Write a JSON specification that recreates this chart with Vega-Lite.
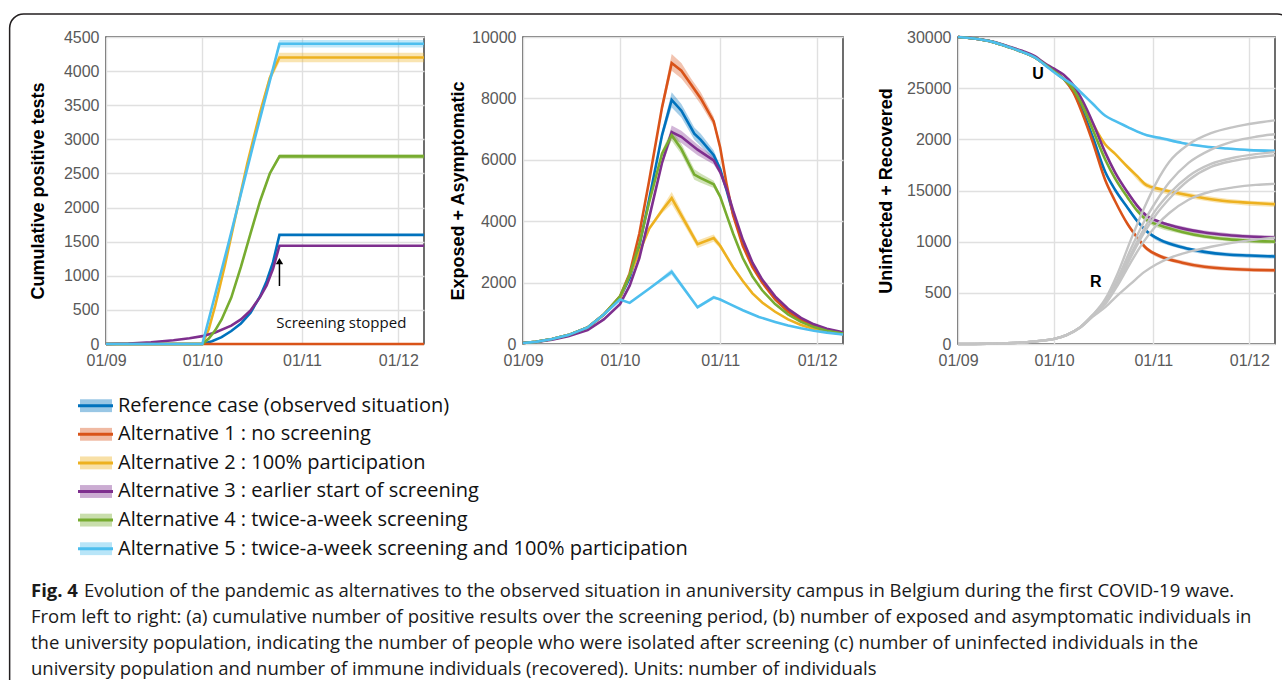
{
  "$schema": "https://vega.github.io/schema/vega-lite/v6.json",
  "background": "white",
  "padding": {"left": 8, "top": 12, "right": 0, "bottom": 0},
  "datasets": {
    "p1": [
      {"s":"ref","d":"2020-09-01","v":0},{"s":"ref","d":"2020-10-01","v":0},{"s":"ref","d":"2020-10-04","v":40},{"s":"ref","d":"2020-10-07","v":100},{"s":"ref","d":"2020-10-10","v":190},{"s":"ref","d":"2020-10-13","v":300},{"s":"ref","d":"2020-10-16","v":460},{"s":"ref","d":"2020-10-19","v":700},{"s":"ref","d":"2020-10-21","v":920},{"s":"ref","d":"2020-10-23","v":1200},{"s":"ref","d":"2020-10-25","v":1600},{"s":"ref","d":"2020-12-09","v":1600},
      {"s":"a1","d":"2020-09-01","v":0},{"s":"a1","d":"2020-12-09","v":0},
      {"s":"a2","d":"2020-09-01","v":0},{"s":"a2","d":"2020-10-01","v":0},{"s":"a2","d":"2020-10-03","v":220},{"s":"a2","d":"2020-10-05","v":560},{"s":"a2","d":"2020-10-08","v":1150},{"s":"a2","d":"2020-10-11","v":1800},{"s":"a2","d":"2020-10-15","v":2650},{"s":"a2","d":"2020-10-19","v":3400},{"s":"a2","d":"2020-10-22","v":3900},{"s":"a2","d":"2020-10-25","v":4200},{"s":"a2","d":"2020-12-09","v":4200},
      {"s":"a3","d":"2020-09-01","v":0},{"s":"a3","d":"2020-09-08","v":8},{"s":"a3","d":"2020-09-15","v":25},{"s":"a3","d":"2020-09-22","v":55},{"s":"a3","d":"2020-09-27","v":85},{"s":"a3","d":"2020-10-01","v":115},{"s":"a3","d":"2020-10-05","v":170},{"s":"a3","d":"2020-10-10","v":270},{"s":"a3","d":"2020-10-13","v":360},{"s":"a3","d":"2020-10-16","v":490},{"s":"a3","d":"2020-10-19","v":690},{"s":"a3","d":"2020-10-21","v":860},{"s":"a3","d":"2020-10-23","v":1100},{"s":"a3","d":"2020-10-25","v":1440},{"s":"a3","d":"2020-12-09","v":1440},
      {"s":"a4","d":"2020-09-01","v":0},{"s":"a4","d":"2020-10-01","v":0},{"s":"a4","d":"2020-10-03","v":80},{"s":"a4","d":"2020-10-05","v":200},{"s":"a4","d":"2020-10-07","v":360},{"s":"a4","d":"2020-10-10","v":680},{"s":"a4","d":"2020-10-13","v":1130},{"s":"a4","d":"2020-10-16","v":1620},{"s":"a4","d":"2020-10-19","v":2100},{"s":"a4","d":"2020-10-22","v":2500},{"s":"a4","d":"2020-10-25","v":2750},{"s":"a4","d":"2020-12-09","v":2750},
      {"s":"a5","d":"2020-09-01","v":0},{"s":"a5","d":"2020-10-01","v":0},{"s":"a5","d":"2020-10-09","v":1450},{"s":"a5","d":"2020-10-17","v":2950},{"s":"a5","d":"2020-10-25","v":4400},{"s":"a5","d":"2020-12-09","v":4400}
    ],
    "p1band": [
      {"s":"a2","d":"2020-10-01","lo":0,"hi":0},{"s":"a2","d":"2020-10-03","lo":215,"hi":225},{"s":"a2","d":"2020-10-05","lo":550,"hi":570},{"s":"a2","d":"2020-10-08","lo":1130,"hi":1170},{"s":"a2","d":"2020-10-11","lo":1770,"hi":1830},{"s":"a2","d":"2020-10-15","lo":2610,"hi":2690},{"s":"a2","d":"2020-10-19","lo":3350,"hi":3450},{"s":"a2","d":"2020-10-22","lo":3840,"hi":3960},{"s":"a2","d":"2020-10-25","lo":4130,"hi":4270},{"s":"a2","d":"2020-12-09","lo":4130,"hi":4270},
      {"s":"a4","d":"2020-10-01","lo":0,"hi":0},{"s":"a4","d":"2020-10-03","lo":78,"hi":82},{"s":"a4","d":"2020-10-05","lo":195,"hi":205},{"s":"a4","d":"2020-10-07","lo":352,"hi":368},{"s":"a4","d":"2020-10-10","lo":668,"hi":692},{"s":"a4","d":"2020-10-13","lo":1112,"hi":1148},{"s":"a4","d":"2020-10-16","lo":1595,"hi":1645},{"s":"a4","d":"2020-10-19","lo":2070,"hi":2130},{"s":"a4","d":"2020-10-22","lo":2465,"hi":2535},{"s":"a4","d":"2020-10-25","lo":2715,"hi":2785},{"s":"a4","d":"2020-12-09","lo":2715,"hi":2785},
      {"s":"a5","d":"2020-10-01","lo":0,"hi":0},{"s":"a5","d":"2020-10-09","lo":1430,"hi":1470},{"s":"a5","d":"2020-10-17","lo":2915,"hi":2985},{"s":"a5","d":"2020-10-25","lo":4345,"hi":4455},{"s":"a5","d":"2020-12-09","lo":4345,"hi":4455}
    ],
    "p2": [
      {"s":"ref","d":"2020-09-01","v":30},{"s":"ref","d":"2020-09-05","v":70},{"s":"ref","d":"2020-09-10","v":160},{"s":"ref","d":"2020-09-15","v":290},{"s":"ref","d":"2020-09-21","v":540},{"s":"ref","d":"2020-09-26","v":960},{"s":"ref","d":"2020-10-01","v":1500},
      {"s":"ref","d":"2020-10-04","v":2150},{"s":"ref","d":"2020-10-07","v":3200},{"s":"ref","d":"2020-10-10","v":4700},{"s":"ref","d":"2020-10-14","v":6800},{"s":"ref","d":"2020-10-17","v":7950},{"s":"ref","d":"2020-10-20","v":7600},{"s":"ref","d":"2020-10-24","v":6850},{"s":"ref","d":"2020-10-26","v":6650},{"s":"ref","d":"2020-10-30","v":6150},{"s":"ref","d":"2020-11-01","v":5700},{"s":"ref","d":"2020-11-03","v":5000},{"s":"ref","d":"2020-11-05","v":4250},{"s":"ref","d":"2020-11-08","v":3300},{"s":"ref","d":"2020-11-11","v":2600},{"s":"ref","d":"2020-11-14","v":2050},{"s":"ref","d":"2020-11-18","v":1500},{"s":"ref","d":"2020-11-22","v":1100},{"s":"ref","d":"2020-11-26","v":800},{"s":"ref","d":"2020-11-30","v":600},{"s":"ref","d":"2020-12-04","v":470},{"s":"ref","d":"2020-12-09","v":360},
      {"s":"a1","d":"2020-09-01","v":30},{"s":"a1","d":"2020-09-05","v":70},{"s":"a1","d":"2020-09-10","v":160},{"s":"a1","d":"2020-09-15","v":290},{"s":"a1","d":"2020-09-21","v":540},{"s":"a1","d":"2020-09-26","v":960},{"s":"a1","d":"2020-10-01","v":1550},
      {"s":"a1","d":"2020-10-04","v":2300},{"s":"a1","d":"2020-10-07","v":3600},{"s":"a1","d":"2020-10-10","v":5300},{"s":"a1","d":"2020-10-14","v":7700},{"s":"a1","d":"2020-10-17","v":9150},{"s":"a1","d":"2020-10-20","v":8900},{"s":"a1","d":"2020-10-23","v":8450},{"s":"a1","d":"2020-10-26","v":8000},{"s":"a1","d":"2020-10-30","v":7250},{"s":"a1","d":"2020-11-01","v":6400},{"s":"a1","d":"2020-11-03","v":5200},{"s":"a1","d":"2020-11-05","v":4200},{"s":"a1","d":"2020-11-08","v":3200},{"s":"a1","d":"2020-11-11","v":2500},{"s":"a1","d":"2020-11-14","v":2000},{"s":"a1","d":"2020-11-18","v":1450},{"s":"a1","d":"2020-11-22","v":1050},{"s":"a1","d":"2020-11-26","v":780},{"s":"a1","d":"2020-11-30","v":590},{"s":"a1","d":"2020-12-04","v":460},{"s":"a1","d":"2020-12-09","v":350},
      {"s":"a2","d":"2020-09-01","v":30},{"s":"a2","d":"2020-09-05","v":70},{"s":"a2","d":"2020-09-10","v":160},{"s":"a2","d":"2020-09-15","v":290},{"s":"a2","d":"2020-09-21","v":540},{"s":"a2","d":"2020-09-26","v":960},{"s":"a2","d":"2020-10-01","v":1500},
      {"s":"a2","d":"2020-10-04","v":2250},{"s":"a2","d":"2020-10-07","v":3000},{"s":"a2","d":"2020-10-10","v":3750},{"s":"a2","d":"2020-10-14","v":4350},{"s":"a2","d":"2020-10-17","v":4750},{"s":"a2","d":"2020-10-21","v":4000},{"s":"a2","d":"2020-10-25","v":3250},{"s":"a2","d":"2020-10-30","v":3450},{"s":"a2","d":"2020-11-01","v":3200},{"s":"a2","d":"2020-11-03","v":2850},{"s":"a2","d":"2020-11-05","v":2500},{"s":"a2","d":"2020-11-08","v":2050},{"s":"a2","d":"2020-11-11","v":1650},{"s":"a2","d":"2020-11-14","v":1350},{"s":"a2","d":"2020-11-18","v":1050},{"s":"a2","d":"2020-11-22","v":800},{"s":"a2","d":"2020-11-26","v":620},{"s":"a2","d":"2020-11-30","v":490},{"s":"a2","d":"2020-12-04","v":400},{"s":"a2","d":"2020-12-09","v":320},
      {"s":"a3","d":"2020-09-01","v":30},{"s":"a3","d":"2020-09-05","v":65},{"s":"a3","d":"2020-09-10","v":140},{"s":"a3","d":"2020-09-15","v":250},{"s":"a3","d":"2020-09-21","v":450},{"s":"a3","d":"2020-09-26","v":800},{"s":"a3","d":"2020-10-01","v":1300},
      {"s":"a3","d":"2020-10-04","v":1900},{"s":"a3","d":"2020-10-07","v":2800},{"s":"a3","d":"2020-10-10","v":4100},{"s":"a3","d":"2020-10-14","v":5900},{"s":"a3","d":"2020-10-17","v":6900},{"s":"a3","d":"2020-10-20","v":6750},{"s":"a3","d":"2020-10-25","v":6330},{"s":"a3","d":"2020-10-30","v":5980},{"s":"a3","d":"2020-11-01","v":5600},{"s":"a3","d":"2020-11-03","v":5050},{"s":"a3","d":"2020-11-05","v":4350},{"s":"a3","d":"2020-11-08","v":3400},{"s":"a3","d":"2020-11-11","v":2650},{"s":"a3","d":"2020-11-14","v":2100},{"s":"a3","d":"2020-11-18","v":1550},{"s":"a3","d":"2020-11-22","v":1150},{"s":"a3","d":"2020-11-26","v":850},{"s":"a3","d":"2020-11-30","v":640},{"s":"a3","d":"2020-12-04","v":500},{"s":"a3","d":"2020-12-09","v":380},
      {"s":"a4","d":"2020-09-01","v":30},{"s":"a4","d":"2020-09-05","v":70},{"s":"a4","d":"2020-09-10","v":160},{"s":"a4","d":"2020-09-15","v":290},{"s":"a4","d":"2020-09-21","v":540},{"s":"a4","d":"2020-09-26","v":960},{"s":"a4","d":"2020-10-01","v":1550},
      {"s":"a4","d":"2020-10-04","v":2250},{"s":"a4","d":"2020-10-07","v":3250},{"s":"a4","d":"2020-10-10","v":4600},{"s":"a4","d":"2020-10-14","v":6200},{"s":"a4","d":"2020-10-17","v":6800},{"s":"a4","d":"2020-10-20","v":6350},{"s":"a4","d":"2020-10-24","v":5520},{"s":"a4","d":"2020-10-26","v":5400},{"s":"a4","d":"2020-10-30","v":5200},{"s":"a4","d":"2020-11-01","v":4800},{"s":"a4","d":"2020-11-03","v":4200},{"s":"a4","d":"2020-11-05","v":3600},{"s":"a4","d":"2020-11-08","v":2800},{"s":"a4","d":"2020-11-11","v":2200},{"s":"a4","d":"2020-11-14","v":1750},{"s":"a4","d":"2020-11-18","v":1300},{"s":"a4","d":"2020-11-22","v":960},{"s":"a4","d":"2020-11-26","v":720},{"s":"a4","d":"2020-11-30","v":550},{"s":"a4","d":"2020-12-04","v":430},{"s":"a4","d":"2020-12-09","v":340},
      {"s":"a5","d":"2020-09-01","v":30},{"s":"a5","d":"2020-09-05","v":70},{"s":"a5","d":"2020-09-10","v":160},{"s":"a5","d":"2020-09-15","v":290},{"s":"a5","d":"2020-09-21","v":540},{"s":"a5","d":"2020-09-26","v":960},{"s":"a5","d":"2020-10-01","v":1450},
      {"s":"a5","d":"2020-10-04","v":1340},{"s":"a5","d":"2020-10-10","v":1800},{"s":"a5","d":"2020-10-17","v":2350},{"s":"a5","d":"2020-10-25","v":1200},{"s":"a5","d":"2020-10-30","v":1520},{"s":"a5","d":"2020-11-01","v":1450},{"s":"a5","d":"2020-11-04","v":1300},{"s":"a5","d":"2020-11-08","v":1100},{"s":"a5","d":"2020-11-13","v":880},{"s":"a5","d":"2020-11-18","v":720},{"s":"a5","d":"2020-11-22","v":600},{"s":"a5","d":"2020-11-26","v":510},{"s":"a5","d":"2020-11-30","v":430},{"s":"a5","d":"2020-12-04","v":370},{"s":"a5","d":"2020-12-09","v":310}
    ],
    "p2band": [
      {"s":"ref","d":"2020-10-10","lo":4650,"hi":4750},{"s":"ref","d":"2020-10-14","lo":6650,"hi":6950},{"s":"ref","d":"2020-10-17","lo":7700,"hi":8200},{"s":"ref","d":"2020-10-20","lo":7380,"hi":7820},{"s":"ref","d":"2020-10-24","lo":6650,"hi":7050},{"s":"ref","d":"2020-10-26","lo":6450,"hi":6850},{"s":"ref","d":"2020-10-30","lo":6000,"hi":6300},{"s":"ref","d":"2020-11-01","lo":5600,"hi":5800},{"s":"ref","d":"2020-11-03","lo":4950,"hi":5050},
      {"s":"a1","d":"2020-10-10","lo":5200,"hi":5400},{"s":"a1","d":"2020-10-14","lo":7550,"hi":7850},{"s":"a1","d":"2020-10-17","lo":8900,"hi":9450},{"s":"a1","d":"2020-10-20","lo":8650,"hi":9150},{"s":"a1","d":"2020-10-23","lo":8250,"hi":8650},{"s":"a1","d":"2020-10-26","lo":7800,"hi":8200},{"s":"a1","d":"2020-10-30","lo":7100,"hi":7400},{"s":"a1","d":"2020-11-01","lo":6300,"hi":6500},{"s":"a1","d":"2020-11-03","lo":5150,"hi":5250},
      {"s":"a2","d":"2020-10-10","lo":3700,"hi":3800},{"s":"a2","d":"2020-10-14","lo":4250,"hi":4450},{"s":"a2","d":"2020-10-17","lo":4550,"hi":4950},{"s":"a2","d":"2020-10-21","lo":3850,"hi":4150},{"s":"a2","d":"2020-10-25","lo":3130,"hi":3370},{"s":"a2","d":"2020-10-30","lo":3330,"hi":3570},{"s":"a2","d":"2020-11-01","lo":3110,"hi":3290},{"s":"a2","d":"2020-11-03","lo":2800,"hi":2900},
      {"s":"a3","d":"2020-10-10","lo":4050,"hi":4150},{"s":"a3","d":"2020-10-14","lo":5800,"hi":6000},{"s":"a3","d":"2020-10-17","lo":6680,"hi":7120},{"s":"a3","d":"2020-10-20","lo":6550,"hi":6950},{"s":"a3","d":"2020-10-25","lo":6150,"hi":6500},{"s":"a3","d":"2020-10-30","lo":5850,"hi":6100},{"s":"a3","d":"2020-11-01","lo":5520,"hi":5680},{"s":"a3","d":"2020-11-03","lo":5000,"hi":5100},
      {"s":"a4","d":"2020-10-10","lo":4550,"hi":4650},{"s":"a4","d":"2020-10-14","lo":6100,"hi":6300},{"s":"a4","d":"2020-10-17","lo":6620,"hi":6980},{"s":"a4","d":"2020-10-20","lo":6180,"hi":6520},{"s":"a4","d":"2020-10-24","lo":5350,"hi":5690},{"s":"a4","d":"2020-10-26","lo":5250,"hi":5550},{"s":"a4","d":"2020-10-30","lo":5080,"hi":5320},{"s":"a4","d":"2020-11-01","lo":4720,"hi":4880},{"s":"a4","d":"2020-11-03","lo":4150,"hi":4250},
      {"s":"a5","d":"2020-10-10","lo":1780,"hi":1820},{"s":"a5","d":"2020-10-17","lo":2250,"hi":2450},{"s":"a5","d":"2020-10-25","lo":1150,"hi":1250},{"s":"a5","d":"2020-10-30","lo":1460,"hi":1580},{"s":"a5","d":"2020-11-01","lo":1420,"hi":1480}
    ],
    "p3": [
      {"s":"ref","d":"2020-09-01","v":30000},{"s":"ref","d":"2020-09-06","v":29850},{"s":"ref","d":"2020-09-12","v":29500},{"s":"ref","d":"2020-09-17","v":29000},{"s":"ref","d":"2020-09-21","v":28550},{"s":"ref","d":"2020-09-25","v":28000},{"s":"ref","d":"2020-09-28","v":27350},{"s":"ref","d":"2020-10-01","v":26650},{"s":"ref","d":"2020-10-04","v":25900},
      {"s":"ref","d":"2020-10-07","v":24700},{"s":"ref","d":"2020-10-10","v":22700},{"s":"ref","d":"2020-10-13","v":20300},{"s":"ref","d":"2020-10-17","v":16800},{"s":"ref","d":"2020-10-20","v":15100},{"s":"ref","d":"2020-10-24","v":13300},{"s":"ref","d":"2020-10-27","v":12000},{"s":"ref","d":"2020-10-30","v":11000},{"s":"ref","d":"2020-11-03","v":10200},{"s":"ref","d":"2020-11-10","v":9450},{"s":"ref","d":"2020-11-17","v":9000},{"s":"ref","d":"2020-11-24","v":8750},{"s":"ref","d":"2020-12-01","v":8650},{"s":"ref","d":"2020-12-09","v":8550},
      {"s":"a1","d":"2020-09-01","v":30000},{"s":"a1","d":"2020-09-06","v":29850},{"s":"a1","d":"2020-09-12","v":29500},{"s":"a1","d":"2020-09-17","v":29000},{"s":"a1","d":"2020-09-21","v":28550},{"s":"a1","d":"2020-09-25","v":28000},{"s":"a1","d":"2020-09-28","v":27350},{"s":"a1","d":"2020-10-01","v":26650},{"s":"a1","d":"2020-10-04","v":25900},
      {"s":"a1","d":"2020-10-07","v":24600},{"s":"a1","d":"2020-10-10","v":22400},{"s":"a1","d":"2020-10-13","v":19800},{"s":"a1","d":"2020-10-17","v":16000},{"s":"a1","d":"2020-10-20","v":14000},{"s":"a1","d":"2020-10-24","v":11700},{"s":"a1","d":"2020-10-27","v":10400},{"s":"a1","d":"2020-10-30","v":9300},{"s":"a1","d":"2020-11-03","v":8600},{"s":"a1","d":"2020-11-10","v":7950},{"s":"a1","d":"2020-11-17","v":7550},{"s":"a1","d":"2020-11-24","v":7350},{"s":"a1","d":"2020-12-01","v":7250},{"s":"a1","d":"2020-12-09","v":7200},
      {"s":"a2","d":"2020-09-01","v":30000},{"s":"a2","d":"2020-09-06","v":29850},{"s":"a2","d":"2020-09-12","v":29500},{"s":"a2","d":"2020-09-17","v":29000},{"s":"a2","d":"2020-09-21","v":28550},{"s":"a2","d":"2020-09-25","v":28000},{"s":"a2","d":"2020-09-28","v":27350},{"s":"a2","d":"2020-10-01","v":26650},{"s":"a2","d":"2020-10-04","v":25900},
      {"s":"a2","d":"2020-10-07","v":25000},{"s":"a2","d":"2020-10-10","v":23500},{"s":"a2","d":"2020-10-13","v":21600},{"s":"a2","d":"2020-10-17","v":19500},{"s":"a2","d":"2020-10-20","v":18600},{"s":"a2","d":"2020-10-24","v":17300},{"s":"a2","d":"2020-10-27","v":16400},{"s":"a2","d":"2020-10-30","v":15500},{"s":"a2","d":"2020-11-03","v":15150},{"s":"a2","d":"2020-11-10","v":14650},{"s":"a2","d":"2020-11-17","v":14250},{"s":"a2","d":"2020-11-24","v":13950},{"s":"a2","d":"2020-12-01","v":13800},{"s":"a2","d":"2020-12-09","v":13650},
      {"s":"a3","d":"2020-09-01","v":30000},{"s":"a3","d":"2020-09-06","v":29860},{"s":"a3","d":"2020-09-12","v":29530},{"s":"a3","d":"2020-09-17","v":29060},{"s":"a3","d":"2020-09-21","v":28650},{"s":"a3","d":"2020-09-25","v":28120},{"s":"a3","d":"2020-09-28","v":27450},{"s":"a3","d":"2020-10-01","v":26900},{"s":"a3","d":"2020-10-04","v":26300},
      {"s":"a3","d":"2020-10-07","v":25300},{"s":"a3","d":"2020-10-10","v":23700},{"s":"a3","d":"2020-10-13","v":21700},{"s":"a3","d":"2020-10-17","v":18700},{"s":"a3","d":"2020-10-20","v":16800},{"s":"a3","d":"2020-10-24","v":14800},{"s":"a3","d":"2020-10-27","v":13500},{"s":"a3","d":"2020-10-30","v":12500},{"s":"a3","d":"2020-11-03","v":11950},{"s":"a3","d":"2020-11-10","v":11300},{"s":"a3","d":"2020-11-17","v":10900},{"s":"a3","d":"2020-11-24","v":10650},{"s":"a3","d":"2020-12-01","v":10500},{"s":"a3","d":"2020-12-09","v":10400},
      {"s":"a4","d":"2020-09-01","v":30000},{"s":"a4","d":"2020-09-06","v":29850},{"s":"a4","d":"2020-09-12","v":29500},{"s":"a4","d":"2020-09-17","v":29000},{"s":"a4","d":"2020-09-21","v":28550},{"s":"a4","d":"2020-09-25","v":28000},{"s":"a4","d":"2020-09-28","v":27350},{"s":"a4","d":"2020-10-01","v":26650},{"s":"a4","d":"2020-10-04","v":25900},
      {"s":"a4","d":"2020-10-07","v":24900},{"s":"a4","d":"2020-10-10","v":23200},{"s":"a4","d":"2020-10-13","v":21000},{"s":"a4","d":"2020-10-17","v":18000},{"s":"a4","d":"2020-10-20","v":16200},{"s":"a4","d":"2020-10-24","v":14300},{"s":"a4","d":"2020-10-27","v":13000},{"s":"a4","d":"2020-10-30","v":12100},{"s":"a4","d":"2020-11-03","v":11600},{"s":"a4","d":"2020-11-10","v":10950},{"s":"a4","d":"2020-11-17","v":10500},{"s":"a4","d":"2020-11-24","v":10250},{"s":"a4","d":"2020-12-01","v":10100},{"s":"a4","d":"2020-12-09","v":10000},
      {"s":"a5","d":"2020-09-01","v":30000},{"s":"a5","d":"2020-09-06","v":29850},{"s":"a5","d":"2020-09-12","v":29500},{"s":"a5","d":"2020-09-17","v":29000},{"s":"a5","d":"2020-09-21","v":28550},{"s":"a5","d":"2020-09-25","v":28000},{"s":"a5","d":"2020-09-28","v":27300},{"s":"a5","d":"2020-10-01","v":26550},{"s":"a5","d":"2020-10-04","v":25900},
      {"s":"a5","d":"2020-10-07","v":25300},{"s":"a5","d":"2020-10-10","v":24400},{"s":"a5","d":"2020-10-13","v":23500},{"s":"a5","d":"2020-10-17","v":22300},{"s":"a5","d":"2020-10-20","v":21800},{"s":"a5","d":"2020-10-24","v":21200},{"s":"a5","d":"2020-10-27","v":20750},{"s":"a5","d":"2020-10-30","v":20400},{"s":"a5","d":"2020-11-03","v":20150},{"s":"a5","d":"2020-11-10","v":19650},{"s":"a5","d":"2020-11-17","v":19300},{"s":"a5","d":"2020-11-24","v":19100},{"s":"a5","d":"2020-12-01","v":18950},{"s":"a5","d":"2020-12-09","v":18880}
    ],
    "p3band": [
      {"s":"ref","d":"2020-10-20","lo":15100,"hi":15100},{"s":"ref","d":"2020-10-24","lo":13150,"hi":13450},{"s":"ref","d":"2020-10-30","lo":10800,"hi":11200},{"s":"ref","d":"2020-11-10","lo":9250,"hi":9650},{"s":"ref","d":"2020-11-24","lo":8550,"hi":8950},{"s":"ref","d":"2020-12-09","lo":8350,"hi":8750},
      {"s":"a1","d":"2020-10-20","lo":14000,"hi":14000},{"s":"a1","d":"2020-10-24","lo":11550,"hi":11850},{"s":"a1","d":"2020-10-30","lo":9100,"hi":9500},{"s":"a1","d":"2020-11-10","lo":7750,"hi":8150},{"s":"a1","d":"2020-11-24","lo":7150,"hi":7550},{"s":"a1","d":"2020-12-09","lo":7000,"hi":7400},
      {"s":"a2","d":"2020-10-20","lo":18600,"hi":18600},{"s":"a2","d":"2020-10-24","lo":17100,"hi":17500},{"s":"a2","d":"2020-10-30","lo":15250,"hi":15750},{"s":"a2","d":"2020-11-10","lo":14400,"hi":14900},{"s":"a2","d":"2020-11-24","lo":13700,"hi":14200},{"s":"a2","d":"2020-12-09","lo":13400,"hi":13900},
      {"s":"a3","d":"2020-10-20","lo":16800,"hi":16800},{"s":"a3","d":"2020-10-24","lo":14650,"hi":14950},{"s":"a3","d":"2020-10-30","lo":12300,"hi":12700},{"s":"a3","d":"2020-11-10","lo":11100,"hi":11500},{"s":"a3","d":"2020-11-24","lo":10450,"hi":10850},{"s":"a3","d":"2020-12-09","lo":10200,"hi":10600},
      {"s":"a4","d":"2020-10-20","lo":16200,"hi":16200},{"s":"a4","d":"2020-10-24","lo":14150,"hi":14450},{"s":"a4","d":"2020-10-30","lo":11900,"hi":12300},{"s":"a4","d":"2020-11-10","lo":10750,"hi":11150},{"s":"a4","d":"2020-11-24","lo":10050,"hi":10450},{"s":"a4","d":"2020-12-09","lo":9800,"hi":10200},
      {"s":"a5","d":"2020-10-20","lo":21800,"hi":21800},{"s":"a5","d":"2020-10-24","lo":21100,"hi":21300},{"s":"a5","d":"2020-10-30","lo":20300,"hi":20500},{"s":"a5","d":"2020-11-10","lo":19550,"hi":19750},{"s":"a5","d":"2020-11-24","lo":19000,"hi":19200},{"s":"a5","d":"2020-12-09","lo":18780,"hi":18980}
    ],
    "p3r": [
      {"s":"a1","d":"2020-09-01","v":0},{"s":"a1","d":"2020-09-10","v":30},{"s":"a1","d":"2020-09-20","v":130},{"s":"a1","d":"2020-09-25","v":260},{"s":"a1","d":"2020-10-01","v":500},{"s":"a1","d":"2020-10-05","v":900},{"s":"a1","d":"2020-10-09","v":1600},{"s":"a1","d":"2020-10-13","v":2800},{"s":"a1","d":"2020-10-17","v":4400},{"s":"a1","d":"2020-10-21","v":7000},{"s":"a1","d":"2020-10-25","v":10200},{"s":"a1","d":"2020-10-29","v":13200},{"s":"a1","d":"2020-11-02","v":15800},{"s":"a1","d":"2020-11-06","v":17800},{"s":"a1","d":"2020-11-12","v":19500},{"s":"a1","d":"2020-11-19","v":20600},{"s":"a1","d":"2020-11-26","v":21200},{"s":"a1","d":"2020-12-03","v":21600},{"s":"a1","d":"2020-12-09","v":21850},
      {"s":"ref","d":"2020-09-01","v":0},{"s":"ref","d":"2020-09-10","v":30},{"s":"ref","d":"2020-09-20","v":130},{"s":"ref","d":"2020-09-25","v":260},{"s":"ref","d":"2020-10-01","v":500},{"s":"ref","d":"2020-10-05","v":900},{"s":"ref","d":"2020-10-09","v":1600},{"s":"ref","d":"2020-10-13","v":2800},{"s":"ref","d":"2020-10-17","v":4200},{"s":"ref","d":"2020-10-21","v":6500},{"s":"ref","d":"2020-10-25","v":9300},{"s":"ref","d":"2020-10-29","v":11900},{"s":"ref","d":"2020-11-02","v":14000},{"s":"ref","d":"2020-11-06","v":15800},{"s":"ref","d":"2020-11-12","v":17700},{"s":"ref","d":"2020-11-19","v":19000},{"s":"ref","d":"2020-11-26","v":19800},{"s":"ref","d":"2020-12-03","v":20250},{"s":"ref","d":"2020-12-09","v":20500},
      {"s":"a4","d":"2020-09-01","v":0},{"s":"a4","d":"2020-09-10","v":30},{"s":"a4","d":"2020-09-20","v":130},{"s":"a4","d":"2020-09-25","v":260},{"s":"a4","d":"2020-10-01","v":500},{"s":"a4","d":"2020-10-05","v":900},{"s":"a4","d":"2020-10-09","v":1600},{"s":"a4","d":"2020-10-13","v":2800},{"s":"a4","d":"2020-10-17","v":4100},{"s":"a4","d":"2020-10-21","v":6200},{"s":"a4","d":"2020-10-25","v":8800},{"s":"a4","d":"2020-10-29","v":11200},{"s":"a4","d":"2020-11-02","v":13200},{"s":"a4","d":"2020-11-06","v":14700},{"s":"a4","d":"2020-11-12","v":16400},{"s":"a4","d":"2020-11-19","v":17600},{"s":"a4","d":"2020-11-26","v":18200},{"s":"a4","d":"2020-12-03","v":18550},{"s":"a4","d":"2020-12-09","v":18750},
      {"s":"a3","d":"2020-09-01","v":0},{"s":"a3","d":"2020-09-10","v":30},{"s":"a3","d":"2020-09-20","v":120},{"s":"a3","d":"2020-09-25","v":240},{"s":"a3","d":"2020-10-01","v":470},{"s":"a3","d":"2020-10-05","v":860},{"s":"a3","d":"2020-10-09","v":1550},{"s":"a3","d":"2020-10-13","v":2700},{"s":"a3","d":"2020-10-17","v":4000},{"s":"a3","d":"2020-10-21","v":6000},{"s":"a3","d":"2020-10-25","v":8500},{"s":"a3","d":"2020-10-29","v":10800},{"s":"a3","d":"2020-11-02","v":12700},{"s":"a3","d":"2020-11-06","v":14200},{"s":"a3","d":"2020-11-12","v":16000},{"s":"a3","d":"2020-11-19","v":17300},{"s":"a3","d":"2020-11-26","v":17900},{"s":"a3","d":"2020-12-03","v":18250},{"s":"a3","d":"2020-12-09","v":18450},
      {"s":"a2","d":"2020-09-01","v":0},{"s":"a2","d":"2020-09-10","v":30},{"s":"a2","d":"2020-09-20","v":130},{"s":"a2","d":"2020-09-25","v":260},{"s":"a2","d":"2020-10-01","v":500},{"s":"a2","d":"2020-10-05","v":900},{"s":"a2","d":"2020-10-09","v":1600},{"s":"a2","d":"2020-10-13","v":2750},{"s":"a2","d":"2020-10-17","v":3900},{"s":"a2","d":"2020-10-21","v":5800},{"s":"a2","d":"2020-10-25","v":8000},{"s":"a2","d":"2020-10-29","v":10000},{"s":"a2","d":"2020-11-02","v":11600},{"s":"a2","d":"2020-11-06","v":12800},{"s":"a2","d":"2020-11-12","v":14100},{"s":"a2","d":"2020-11-19","v":14900},{"s":"a2","d":"2020-11-26","v":15300},{"s":"a2","d":"2020-12-03","v":15550},{"s":"a2","d":"2020-12-09","v":15650},
      {"s":"a5","d":"2020-09-01","v":0},{"s":"a5","d":"2020-09-10","v":30},{"s":"a5","d":"2020-09-20","v":130},{"s":"a5","d":"2020-09-25","v":260},{"s":"a5","d":"2020-10-01","v":500},{"s":"a5","d":"2020-10-05","v":900},{"s":"a5","d":"2020-10-09","v":1600},{"s":"a5","d":"2020-10-13","v":2650},{"s":"a5","d":"2020-10-17","v":3600},{"s":"a5","d":"2020-10-21","v":4800},{"s":"a5","d":"2020-10-25","v":5900},{"s":"a5","d":"2020-10-29","v":7000},{"s":"a5","d":"2020-11-02","v":7800},{"s":"a5","d":"2020-11-06","v":8400},{"s":"a5","d":"2020-11-12","v":9000},{"s":"a5","d":"2020-11-19","v":9500},{"s":"a5","d":"2020-11-26","v":9900},{"s":"a5","d":"2020-12-03","v":10200},{"s":"a5","d":"2020-12-09","v":10400}
    ],
    "legend": [
      {"o":1,"s":"ref","label":"Reference case (observed situation)"},
      {"o":2,"s":"a1","label":"Alternative 1 : no screening"},
      {"o":3,"s":"a2","label":"Alternative 2 : 100% participation"},
      {"o":4,"s":"a3","label":"Alternative 3 : earlier start of screening"},
      {"o":5,"s":"a4","label":"Alternative 4 : twice-a-week screening"},
      {"o":6,"s":"a5","label":"Alternative 5 : twice-a-week screening and 100% participation"}
    ],
    "caption": [
      {"o":1,"b":"Fig. 4","t":"Evolution of the pandemic as alternatives to the observed situation in anuniversity campus in Belgium during the first COVID-19 wave."},
      {"o":2,"t":"From left to right: (a) cumulative number of positive results over the screening period, (b) number of exposed and asymptomatic individuals in"},
      {"o":3,"t":"the university population, indicating the number of people who were isolated after screening (c) number of uninfected individuals in the"},
      {"o":4,"t":"university population and number of immune individuals (recovered). Units: number of individuals"}
    ]
  },
  "columns": 3,
  "bounds": "flush",
  "spacing": {"row": 15, "column": 99},
  "concat": [
    {
      "width": 318,
      "height": 307,
      "layer": [
        {
          "data": {"values": [{"frame": 1}]},
          "mark": {"type": "rect", "filled": false, "stroke": "#231f20", "strokeWidth": 1.5, "cornerRadius": 14, "clip": false},
          "encoding": {
            "x": {"datum": {"year": 2020, "month": 8, "date": 2, "utc": true}, "type": "temporal", "title": null, "scale": {"type": "utc", "domain": [{"year": 2020, "month": 9, "date": 1, "utc": true}, {"year": 2020, "month": 12, "date": 9, "utc": true}]}, "axis": {"values": [{"year": 2020, "month": 9, "date": 1, "utc": true}, {"year": 2020, "month": 10, "date": 1, "utc": true}, {"year": 2020, "month": 11, "date": 1, "utc": true}, {"year": 2020, "month": 12, "date": 1, "utc": true}], "format": "%d/%m", "labelFlush": false}},
            "x2": {"datum": {"year": 2021, "month": 9, "date": 5, "utc": true}},
            "y": {"datum": 4837, "type": "quantitative", "title": "Cumulative positive tests", "scale": {"domain": [0, 4500]}, "axis": {"values": [0, 500, 1000, 1500, 2000, 2500, 3000, 3500, 4000, 4500], "format": "d", "titlePadding": 16, "labelOverlap": false}},
            "y2": {"datum": -5230}
          }
        },
        {
          "data": {"name": "p1band"},
          "mark": {"type": "area", "opacity": 0.35},
          "encoding": {
            "x": {"field": "d", "type": "temporal", "title": null, "axis": {"values": [{"year": 2020, "month": 9, "date": 1, "utc": true}, {"year": 2020, "month": 10, "date": 1, "utc": true}, {"year": 2020, "month": 11, "date": 1, "utc": true}, {"year": 2020, "month": 12, "date": 1, "utc": true}], "format": "%d/%m", "labelFlush": false}},
            "y": {"field": "lo", "type": "quantitative", "title": "Cumulative positive tests", "axis": {"values": [0, 500, 1000, 1500, 2000, 2500, 3000, 3500, 4000, 4500], "format": "d", "titlePadding": 16, "labelOverlap": false}},
            "y2": {"field": "hi"},
            "color": {"field": "s", "type": "nominal", "legend": null, "scale": {"domain": ["ref", "a1", "a2", "a3", "a4", "a5"], "range": ["#0072BD", "#D95319", "#EDB120", "#7E2F8E", "#77AC30", "#4DBEEE"]}}
          }
        },
        {
          "data": {"name": "p1"},
          "mark": {"type": "line", "strokeWidth": 2.6},
          "encoding": {
            "x": {"field": "d", "type": "temporal", "title": null, "axis": {"values": [{"year": 2020, "month": 9, "date": 1, "utc": true}, {"year": 2020, "month": 10, "date": 1, "utc": true}, {"year": 2020, "month": 11, "date": 1, "utc": true}, {"year": 2020, "month": 12, "date": 1, "utc": true}], "format": "%d/%m", "labelFlush": false}},
            "y": {"field": "v", "type": "quantitative", "title": "Cumulative positive tests", "axis": {"values": [0, 500, 1000, 1500, 2000, 2500, 3000, 3500, 4000, 4500], "format": "d", "titlePadding": 16, "labelOverlap": false}},
            "color": {"field": "s", "type": "nominal", "legend": null}
          }
        },
        {
          "data": {"values": [{"d": "2020-10-25", "a": 850, "b": 1190}]},
          "mark": {"type": "rule", "color": "#000000", "strokeWidth": 1.5},
          "encoding": {
            "x": {"field": "d", "type": "temporal", "title": null, "axis": {"values": [{"year": 2020, "month": 9, "date": 1, "utc": true}, {"year": 2020, "month": 10, "date": 1, "utc": true}, {"year": 2020, "month": 11, "date": 1, "utc": true}, {"year": 2020, "month": 12, "date": 1, "utc": true}], "format": "%d/%m", "labelFlush": false}},
            "y": {"field": "a", "type": "quantitative", "title": "Cumulative positive tests", "axis": {"values": [0, 500, 1000, 1500, 2000, 2500, 3000, 3500, 4000, 4500], "format": "d", "titlePadding": 16, "labelOverlap": false}},
            "y2": {"field": "b"}
          }
        },
        {
          "data": {"values": [{"d": "2020-10-25", "a": 1215}]},
          "mark": {"type": "point", "shape": "triangle-up", "filled": true, "color": "#000000", "size": 55, "opacity": 1},
          "encoding": {
            "x": {"field": "d", "type": "temporal", "title": null, "axis": {"values": [{"year": 2020, "month": 9, "date": 1, "utc": true}, {"year": 2020, "month": 10, "date": 1, "utc": true}, {"year": 2020, "month": 11, "date": 1, "utc": true}, {"year": 2020, "month": 12, "date": 1, "utc": true}], "format": "%d/%m", "labelFlush": false}},
            "y": {"field": "a", "type": "quantitative", "title": "Cumulative positive tests", "axis": {"values": [0, 500, 1000, 1500, 2000, 2500, 3000, 3500, 4000, 4500], "format": "d", "titlePadding": 16, "labelOverlap": false}}
          }
        },
        {
          "data": {"values": [{"d": "2020-10-24", "a": 310, "t": "Screening stopped"}]},
          "mark": {"type": "text", "align": "left", "baseline": "middle", "font": "Open Sans", "fontSize": 15, "color": "#111111"},
          "encoding": {
            "x": {"field": "d", "type": "temporal", "title": null, "axis": {"values": [{"year": 2020, "month": 9, "date": 1, "utc": true}, {"year": 2020, "month": 10, "date": 1, "utc": true}, {"year": 2020, "month": 11, "date": 1, "utc": true}, {"year": 2020, "month": 12, "date": 1, "utc": true}], "format": "%d/%m", "labelFlush": false}},
            "y": {"field": "a", "type": "quantitative", "title": "Cumulative positive tests", "axis": {"values": [0, 500, 1000, 1500, 2000, 2500, 3000, 3500, 4000, 4500], "format": "d", "titlePadding": 16, "labelOverlap": false}},
            "text": {"field": "t"}
          }
        }
      ]
    },
    {
      "width": 320,
      "height": 307,
      "layer": [
        {
          "data": {"name": "p2band"},
          "mark": {"type": "area", "opacity": 0.35},
          "encoding": {
            "x": {"field": "d", "type": "temporal", "title": null, "scale": {"type": "utc", "domain": [{"year": 2020, "month": 9, "date": 1, "utc": true}, {"year": 2020, "month": 12, "date": 9, "utc": true}]}, "axis": {"values": [{"year": 2020, "month": 9, "date": 1, "utc": true}, {"year": 2020, "month": 10, "date": 1, "utc": true}, {"year": 2020, "month": 11, "date": 1, "utc": true}, {"year": 2020, "month": 12, "date": 1, "utc": true}], "format": "%d/%m", "labelFlush": false}},
            "y": {"field": "lo", "type": "quantitative", "title": "Exposed + Asymptomatic", "scale": {"domain": [0, 10000]}, "axis": {"values": [0, 2000, 4000, 6000, 8000, 10000], "format": "d", "titlePadding": 4, "labelOverlap": false}},
            "y2": {"field": "hi"},
            "color": {"field": "s", "type": "nominal", "legend": null}
          }
        },
        {
          "data": {"name": "p2"},
          "mark": {"type": "line", "strokeWidth": 2.6},
          "encoding": {
            "x": {"field": "d", "type": "temporal", "title": null, "axis": {"values": [{"year": 2020, "month": 9, "date": 1, "utc": true}, {"year": 2020, "month": 10, "date": 1, "utc": true}, {"year": 2020, "month": 11, "date": 1, "utc": true}, {"year": 2020, "month": 12, "date": 1, "utc": true}], "format": "%d/%m", "labelFlush": false}},
            "y": {"field": "v", "type": "quantitative", "title": "Exposed + Asymptomatic", "axis": {"values": [0, 2000, 4000, 6000, 8000, 10000], "format": "d", "titlePadding": 4, "labelOverlap": false}},
            "color": {"field": "s", "type": "nominal", "legend": null}
          }
        }
      ]
    },
    {
      "width": 317,
      "height": 307,
      "layer": [
        {
          "data": {"name": "p3band"},
          "mark": {"type": "area", "opacity": 0.35, "interpolate": "monotone"},
          "encoding": {
            "x": {"field": "d", "type": "temporal", "title": null, "scale": {"type": "utc", "domain": [{"year": 2020, "month": 9, "date": 1, "utc": true}, {"year": 2020, "month": 12, "date": 9, "utc": true}]}, "axis": {"values": [{"year": 2020, "month": 9, "date": 1, "utc": true}, {"year": 2020, "month": 10, "date": 1, "utc": true}, {"year": 2020, "month": 11, "date": 1, "utc": true}, {"year": 2020, "month": 12, "date": 1, "utc": true}], "format": "%d/%m", "labelFlush": false}},
            "y": {"field": "lo", "type": "quantitative", "title": "Uninfected + Recovered", "scale": {"domain": [0, 30000]}, "axis": {"values": [0, 5000, 10000, 15000, 20000, 25000, 30000], "format": "d", "titlePadding": 11, "labelOverlap": false, "labelExpr": "datum.value == 20000 ? '2000' : datum.value == 10000 ? '1000' : datum.value == 5000 ? '500' : datum.label"}},
            "y2": {"field": "hi"},
            "color": {"field": "s", "type": "nominal", "legend": null}
          }
        },
        {
          "data": {"name": "p3"},
          "mark": {"type": "line", "strokeWidth": 2.6, "interpolate": "monotone"},
          "encoding": {
            "x": {"field": "d", "type": "temporal", "title": null},
            "y": {"field": "v", "type": "quantitative", "title": "Uninfected + Recovered"},
            "color": {"field": "s", "type": "nominal", "legend": null}
          }
        },
        {
          "data": {"name": "p3r"},
          "mark": {"type": "line", "strokeWidth": 2.4, "interpolate": "monotone", "color": "#c4c4c4"},
          "encoding": {
            "x": {"field": "d", "type": "temporal", "title": null},
            "y": {"field": "v", "type": "quantitative", "title": "Uninfected + Recovered"},
            "detail": {"field": "s"}
          }
        },
        {
          "data": {"values": [{"d": "2020-09-26", "a": 26400, "t": "U"}, {"d": "2020-10-14", "a": 6100, "t": "R"}]},
          "mark": {"type": "text", "align": "center", "baseline": "middle", "font": "Liberation Sans", "fontWeight": "bold", "fontSize": 16, "color": "#000000"},
          "encoding": {
            "x": {"field": "d", "type": "temporal", "title": null},
            "y": {"field": "a", "type": "quantitative", "title": "Uninfected + Recovered"},
            "text": {"field": "t"}
          }
        }
      ]
    },
    {
      "width": 300,
      "height": 204,
      "view": {"stroke": null},
      "data": {"name": "legend"},
      "layer": [
        {
          "mark": {"type": "rect", "height": {"band": 0.45}, "opacity": 0.4},
          "encoding": {
            "x": {"datum": -26, "type": "quantitative", "scale": {"domain": [0, 300]}, "axis": null},
            "x2": {"datum": 6},
            "y": {"field": "o", "type": "ordinal", "axis": null, "scale": {"paddingInner": 0, "paddingOuter": 0.5664, "align": 1}},
            "color": {"field": "s", "type": "nominal", "legend": null}
          }
        },
        {
          "mark": {"type": "rule", "strokeWidth": 3},
          "encoding": {
            "x": {"datum": -28, "type": "quantitative"},
            "x2": {"datum": 7},
            "y": {"field": "o", "type": "ordinal"},
            "color": {"field": "s", "type": "nominal", "legend": null}
          }
        },
        {
          "mark": {"type": "text", "align": "left", "baseline": "middle", "font": "Open Sans", "fontSize": 20, "color": "#111111"},
          "encoding": {
            "x": {"datum": 12, "type": "quantitative"},
            "y": {"field": "o", "type": "ordinal"},
            "text": {"field": "label"}
          }
        }
      ]
    },
    {
      "width": 336,
      "height": 1,
      "view": {"stroke": null},
      "data": {"values": []},
      "mark": "point"
    },
    {
      "width": 1,
      "height": 1,
      "view": {"stroke": null},
      "data": {"values": []},
      "mark": "point"
    },
    {
      "width": 300,
      "height": 104,
      "view": {"stroke": null},
      "data": {"name": "caption"},
      "layer": [
        {
          "transform": [{"filter": "datum.o == 1"}],
          "mark": {"type": "text", "align": "left", "baseline": "middle", "font": "Open Sans", "fontWeight": "bold", "fontSize": 18.5, "color": "#1a1a1a"},
          "encoding": {
            "x": {"datum": -75, "type": "quantitative", "scale": {"domain": [0, 300]}, "axis": null},
            "y": {"field": "o", "type": "ordinal", "axis": null},
            "text": {"field": "b"}
          }
        },
        {
          "transform": [{"filter": "datum.o == 1"}],
          "mark": {"type": "text", "align": "left", "baseline": "middle", "font": "Open Sans", "fontSize": 18.5, "color": "#1a1a1a", "dx": 53},
          "encoding": {
            "x": {"datum": -75, "type": "quantitative"},
            "y": {"field": "o", "type": "ordinal"},
            "text": {"field": "t"}
          }
        },
        {
          "transform": [{"filter": "datum.o > 1"}],
          "mark": {"type": "text", "align": "left", "baseline": "middle", "font": "Open Sans", "fontSize": 18.5, "color": "#1a1a1a"},
          "encoding": {
            "x": {"datum": -75, "type": "quantitative"},
            "y": {"field": "o", "type": "ordinal"},
            "text": {"field": "t"}
          }
        }
      ]
    }
  ],
  "config": {
    "view": {"stroke": "#4a4a4a", "strokeWidth": 1.6},
    "axis": {"domain": false, "ticks": false, "grid": true, "gridColor": "#e0e0e0", "gridWidth": 1.4, "labelFont": "Liberation Sans", "labelFontSize": 16, "labelColor": "#595959", "titleFont": "Liberation Sans", "titleFontSize": 18, "titleFontWeight": "bold", "titleColor": "#000000"},
    "axisX": {"labelPadding": 8},
    "axisY": {"labelPadding": 7, "labelOverlap": false}
  }
}
